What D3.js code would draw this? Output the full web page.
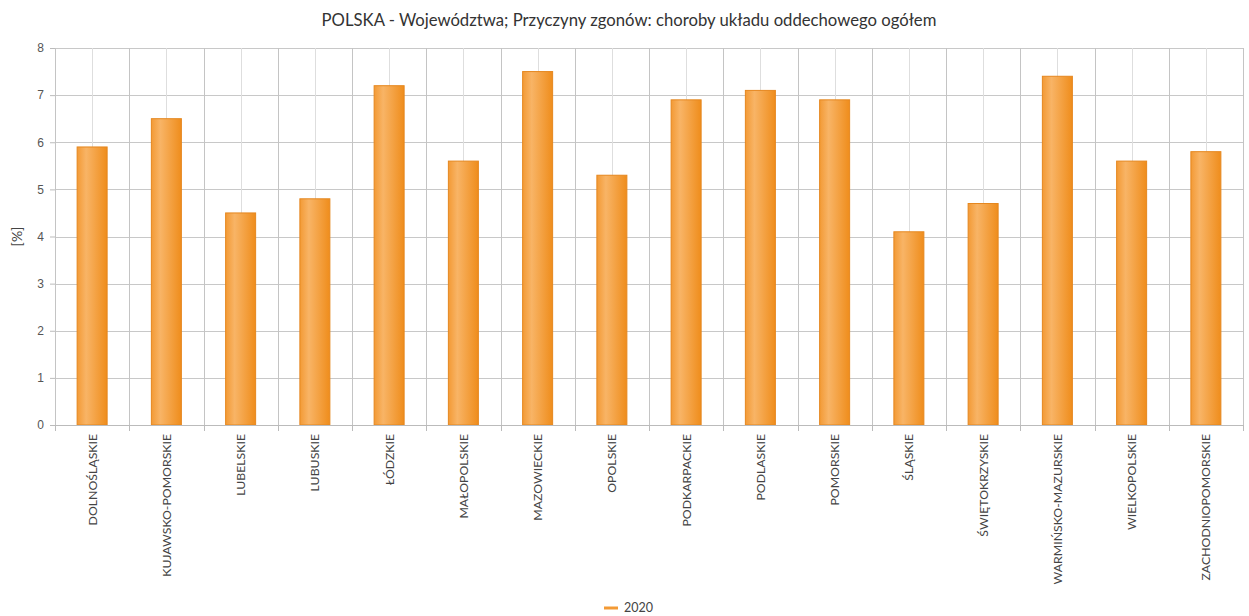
<!DOCTYPE html>
<html>
<head>
<meta charset="utf-8">
<script src="https://cdn.jsdelivr.net/npm/d3@7"></script>
<style>
  body { margin: 0; background: #fff; }
  svg { font-family: Lato, "Open Sans", sans-serif; }
</style>
</head>
<body>
<svg width="1249" height="616"></svg>
<script>
// data
var regions = ["DOLNOŚLĄSKIE", "KUJAWSKO-POMORSKIE", "LUBELSKIE", "LUBUSKIE", "ŁÓDZKIE",
  "MAŁOPOLSKIE", "MAZOWIECKIE", "OPOLSKIE", "PODKARPACKIE", "PODLASKIE", "POMORSKIE",
  "ŚLĄSKIE", "ŚWIĘTOKRZYSKIE", "WARMIŃSKO-MAZURSKIE", "WIELKOPOLSKIE", "ZACHODNIOPOMORSKIE"];
var values2020 = [5.9, 6.5, 4.5, 4.8, 7.2, 5.6, 7.5, 5.3, 6.9, 7.1, 6.9, 4.1, 4.7, 7.4, 5.6, 5.8];
var yTicks = [0, 1, 2, 3, 4, 5, 6, 7, 8];
var seriesName = "2020";
var title = "POLSKA - Województwa; Przyczyny zgonów: choroby układu oddechowego ogółem";

var margin = { top: 48, right: 6, bottom: 191, left: 55 },
    width = 1249 - margin.left - margin.right,
    height = 616 - margin.top - margin.bottom;

var svg = d3.select("svg");

// gradient for the bars
var defs = svg.append("defs");
var grad = defs.append("linearGradient").attr("id", "barGrad")
  .attr("x1", "0%").attr("x2", "100%").attr("y1", "0%").attr("y2", "0%");
grad.append("stop").attr("offset", "0%").attr("stop-color", "#f39a35");
grad.append("stop").attr("offset", "30%").attr("stop-color", "#f8b466");
grad.append("stop").attr("offset", "100%").attr("stop-color", "#ef8d1c");

var g = svg.append("g").attr("transform", "translate(" + margin.left + "," + margin.top + ")");

var x = d3.scaleBand().domain(regions).range([0, width]);
var y = d3.scaleLinear().domain([0, 8]).range([height, 0]);

// horizontal grid
g.selectAll(".hgrid").data(yTicks).enter().append("line")
  .attr("x1", 0).attr("x2", width)
  .attr("y1", function(d) { return Math.round(y(d)) + 0.5; })
  .attr("y2", function(d) { return Math.round(y(d)) + 0.5; })
  .attr("stroke", "#c8c8c8").attr("stroke-width", 1);

// vertical grid: category boundaries and centres
var bounds = regions.map(function(d) { return x(d); }).concat([width]);
g.selectAll(".vgrid").data(bounds).enter().append("line")
  .attr("x1", function(d) { return Math.round(d) + 0.5; })
  .attr("x2", function(d) { return Math.round(d) + 0.5; })
  .attr("y1", 0).attr("y2", height)
  .attr("stroke", "#c4c4c4");
g.selectAll(".vgridc").data(regions).enter().append("line")
  .attr("x1", function(d) { return Math.round(x(d) + x.bandwidth() / 2) + 0.5; })
  .attr("x2", function(d) { return Math.round(x(d) + x.bandwidth() / 2) + 0.5; })
  .attr("y1", 0).attr("y2", height)
  .attr("stroke", "#dedede");

// bars
var barW = 30;
g.selectAll(".bar").data(values2020).enter().append("rect")
  .attr("x", function(d, i) { return x(regions[i]) + x.bandwidth() / 2 - barW / 2; })
  .attr("y", function(d) { return y(d); })
  .attr("width", barW)
  .attr("height", function(d) { return height - y(d); })
  .attr("fill", "url(#barGrad)")
  .attr("stroke", "#e5871f").attr("stroke-width", 1);

// y axis
var yAxis = g.append("g").call(d3.axisLeft(y).tickValues(yTicks).tickSize(5).tickPadding(6));
yAxis.select(".domain").remove();
yAxis.selectAll(".tick line").attr("stroke", "#bbb");
yAxis.selectAll("text").attr("fill", "#555").style("font-size", "12px");

// x axis
var xAxis = g.append("g").attr("transform", "translate(0," + height + ")");
xAxis.append("line").attr("x1", 0).attr("x2", width).attr("y1", 0.5).attr("y2", 0.5)
  .attr("stroke", "#bbb");
xAxis.selectAll(".xtick").data(bounds).enter().append("line")
  .attr("x1", function(d) { return Math.round(d) + 0.5; })
  .attr("x2", function(d) { return Math.round(d) + 0.5; })
  .attr("y1", 0).attr("y2", 6).attr("stroke", "#bbb");
xAxis.selectAll(".xlab").data(regions).enter().append("text")
  .attr("transform", function(d) {
    return "translate(" + (x(d) + x.bandwidth() / 2 + 4.5) + ",9) rotate(-90)";
  })
  .attr("text-anchor", "end")
  .attr("fill", "#444")
  .style("font-size", "12.3px")
  .text(function(d) { return d; });

// y label
svg.append("text")
  .attr("transform", "translate(22," + (margin.top + height / 2) + ") rotate(-90)")
  .attr("text-anchor", "middle")
  .attr("fill", "#444")
  .style("font-size", "14px")
  .text("[%]");

// title
svg.append("text")
  .attr("x", 629).attr("y", 26)
  .attr("text-anchor", "middle")
  .attr("fill", "#333")
  .style("font-size", "16.7px")
  .text(title);

// legend
var leg = svg.append("g").attr("transform", "translate(604,608)");
leg.append("line").attr("x1", 0).attr("x2", 14).attr("y1", 0).attr("y2", 0)
  .attr("stroke", "#f39a35").attr("stroke-width", 3);
leg.append("text").attr("x", 20).attr("y", 4)
  .attr("fill", "#444").style("font-size", "12.5px").text(seriesName);
</script>
</body>
</html>
